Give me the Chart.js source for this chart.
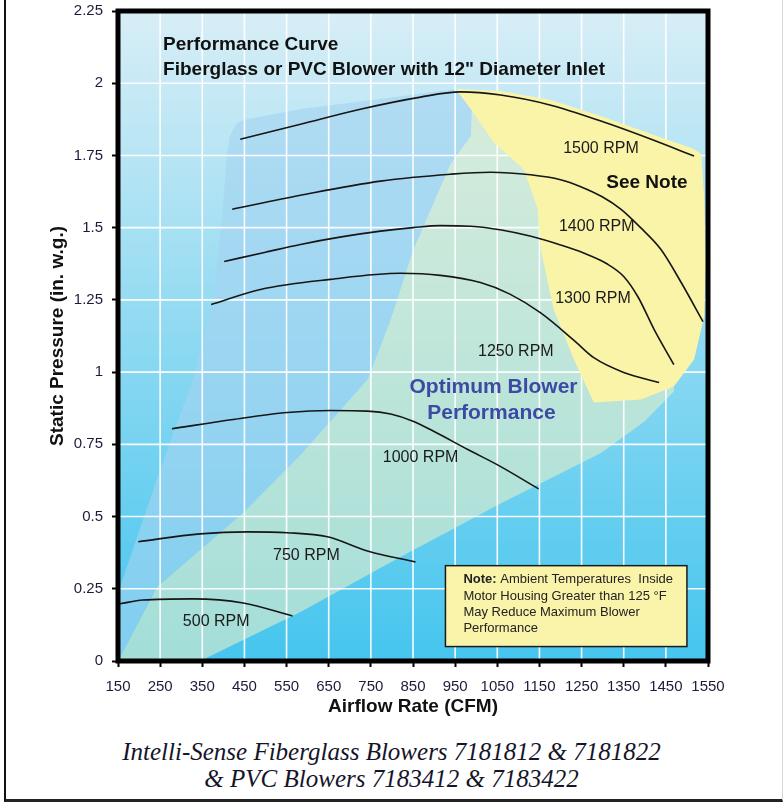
<!DOCTYPE html>
<html>
<head>
<meta charset="utf-8">
<script src="https://cdn.jsdelivr.net/npm/chart.js@4.4.0/dist/chart.umd.min.js"></script>
<style>
    html, body { margin: 0; padding: 0; background: #fff; }
    body { width: 783px; height: 804px; position: relative; overflow: hidden; }
    #frame {
        position: absolute; left: 4px; top: -5px; width: 779px; height: 807px;
        box-sizing: border-box;
        border-left: 2px solid #111; border-bottom: 3px solid #222; border-right: 1px solid #d8d8d8;
    }
    #chartBox { position: absolute; left: 0; top: 0; width: 783px; height: 725px; }
    #caption {
        position: absolute; left: 0; top: 738px; width: 783px; text-align: center;
        font-family: "Liberation Serif", "DejaVu Serif", serif; font-style: italic;
        font-size: 25px; line-height: 27px; color: #15152a;
    }
</style>
</head>
<body>
<div id="frame"></div>
<div id="chartBox"><canvas id="display"></canvas></div>
<div id="caption">Intelli-Sense Fiberglass Blowers 7181812 &amp; 7181822<br>&amp; PVC Blowers 7183412 &amp; 7183422</div>
<script>
// axis ticks
const xTickValues = [150, 250, 350, 450, 550, 650, 750, 850, 950, 1050, 1150, 1250, 1350, 1450, 1550];
const yTickValues = [0, 0.25, 0.5, 0.75, 1, 1.25, 1.5, 1.75, 2, 2.25];
const yTickLabels = ["0", "0.25", "0.5", "0.75", "1", "1.25", "1.5", "1.75", "2", "2.25"];

// fan curves (CFM / in. w.g.)
const cfm1500 = [440, 583, 725, 868, 963, 1058, 1177, 1296, 1415, 1517];
const sp1500 = [1.806, 1.858, 1.91, 1.952, 1.97, 1.959, 1.924, 1.869, 1.806, 1.748];
const cfm1400 = [421, 583, 773, 939, 1034, 1129, 1200, 1248, 1300, 1343, 1390, 1438, 1486, 1538];
const sp1400 = [1.564, 1.612, 1.661, 1.685, 1.692, 1.683, 1.666, 1.642, 1.606, 1.564, 1.5, 1.425, 1.311, 1.175];
const cfm1300 = [402, 500, 583, 680, 773, 850, 915, 987, 1060, 1130, 1200, 1255, 1310, 1350, 1384, 1422, 1469];
const sp1300 = [1.383, 1.415, 1.442, 1.468, 1.488, 1.5, 1.507, 1.505, 1.492, 1.47, 1.44, 1.412, 1.375, 1.331, 1.26, 1.148, 1.026];
const cfm1250 = [371, 488, 654, 820, 915, 1010, 1080, 1153, 1232, 1279, 1350, 1434];
const sp1250 = [1.234, 1.286, 1.321, 1.342, 1.335, 1.31, 1.27, 1.205, 1.11, 1.05, 0.999, 0.964];
const cfm1000 = [278, 423, 552, 654, 742, 797, 850, 899, 980, 1058, 1148];
const sp1000 = [0.804, 0.836, 0.86, 0.867, 0.865, 0.855, 0.83, 0.795, 0.732, 0.673, 0.596];
const cfm750 = [198, 345, 457, 552, 647, 742, 856];
const sp750 = [0.413, 0.44, 0.447, 0.444, 0.43, 0.381, 0.343];
const cfm500 = [155, 209, 328, 447, 564];
const sp500 = [0.198, 0.211, 0.215, 0.201, 0.156];

// shaded zones (outline points)
const optimumX = [150, 345, 583, 820, 1058, 1296, 1400, 1470, 1450, 1400, 1100, 951, 991, 987, 939, 851, 797, 742, 583, 447, 243, 150];
const optimumY = [0, 0, 0.17, 0.36, 0.545, 0.72, 0.83, 0.935, 1.2, 1.6, 1.9, 1.98, 1.956, 1.817, 1.72, 1.425, 1.182, 0.974, 0.714, 0.513, 0.257, 0];
const leftZoneX = [150, 155, 250, 328, 376, 397, 408, 416, 430, 445, 583, 773, 951, 991, 987, 939, 851, 797, 742, 583, 447, 243, 150];
const leftZoneY = [0, 0.257, 0.662, 0.974, 1.252, 1.529, 1.75, 1.82, 1.858, 1.872, 1.911, 1.945, 1.98, 1.956, 1.817, 1.72, 1.425, 1.182, 0.974, 0.714, 0.513, 0.257, 0];
const noteZoneX = [951, 1058, 1177, 1296, 1415, 1517, 1534, 1541, 1545, 1541, 1517, 1469, 1391, 1279, 1232, 1184, 1153, 1146, 1113, 1041, 987, 951];
const noteZoneY = [1.98, 1.973, 1.942, 1.886, 1.824, 1.772, 1.755, 1.598, 1.39, 1.193, 1.044, 0.95, 0.905, 0.895, 1.044, 1.217, 1.425, 1.564, 1.702, 1.796, 1.911, 1.98];

const pts = (xs, ys) => xs.map((v, i) => ({x: v, y: ys[i]}));
const FONT = '"Liberation Sans", Arial, sans-serif';
const LEFT_ZONE = 1;

let curve = function (xs, ys) {
    return {
        data: pts(xs, ys), order: 0, borderColor: "#161616", borderWidth: 1.6,
        pointRadius: 0, cubicInterpolationMode: "monotone", fill: false
    };
};
let zone = function (xs, ys, color, order) {
    return {
        data: pts(xs, ys), order: order, borderColor: "transparent", borderWidth: 0,
        backgroundColor: color, pointRadius: 0, tension: 0, fill: "shape"
    };
};

const bgPlugin = {
    id: "bgPlugin",
    beforeDatasetsDraw(chart) {
        const {ctx, chartArea: a} = chart;
        const g = ctx.createLinearGradient(0, a.top, 0, a.bottom);
        g.addColorStop(0, "#d8eef6");
        g.addColorStop(1, "#45c5ee");
        ctx.save();
        ctx.fillStyle = g;
        ctx.fillRect(a.left, a.top, a.right - a.left, a.bottom - a.top);
        ctx.restore();
    },
    afterDatasetDraw(chart, args) {
        // white grid goes over the blue/green zones but under the yellow one
        if (args.index !== LEFT_ZONE) {
            return;
        }
        const {ctx, chartArea: a, scales} = chart;
        ctx.save();
        ctx.strokeStyle = "rgba(255,255,255,0.95)";
        ctx.lineWidth = 1.6;
        ctx.beginPath();
        for (const v of xTickValues) {
            const px = scales.x.getPixelForValue(v);
            ctx.moveTo(px, a.top);
            ctx.lineTo(px, a.bottom);
        }
        for (const v of yTickValues) {
            const py = scales.y.getPixelForValue(v);
            ctx.moveTo(a.left, py);
            ctx.lineTo(a.right, py);
        }
        ctx.stroke();
        ctx.restore();
    }
};

const labelPlugin = {
    id: "labelPlugin",
    afterDatasetsDraw(chart) {
        const {ctx, chartArea: a, scales} = chart;
        const X = v => scales.x.getPixelForValue(v);
        const Y = v => scales.y.getPixelForValue(v);
        ctx.save();
        ctx.textBaseline = "middle";

        // title
        ctx.fillStyle = "#111";
        ctx.font = `bold 19px ${FONT}`;
        ctx.textAlign = "left";
        ctx.fillText("Performance Curve", X(257), Y(2.132));
        ctx.fillText('Fiberglass or PVC Blower with 12" Diameter Inlet', X(257), Y(2.046));

        // rpm labels
        ctx.font = `16px ${FONT}`;
        ctx.textAlign = "center";
        ctx.fillStyle = "#1a1a1a";
        const rpm = [
            ["1500 RPM", 1296, 1.775], ["1400 RPM", 1286, 1.502], ["1300 RPM", 1277, 1.256],
            ["1250 RPM", 1094, 1.072], ["1000 RPM", 868, 0.703], ["750 RPM", 597, 0.364],
            ["500 RPM", 383, 0.136]
        ];
        for (const [t, x, y] of rpm) {
            ctx.fillText(t, X(x), Y(y));
        }
        ctx.font = `bold 19px ${FONT}`;
        ctx.fillStyle = "#111";
        ctx.fillText("See Note", X(1405), Y(1.655));

        ctx.font = `bold 21px ${FONT}`;
        ctx.fillStyle = "#3d4aa3";
        ctx.fillText("Optimum Blower", X(1041), Y(0.948));
        ctx.fillText("Performance", X(1036), Y(0.857));

        // note box
        const bx = X(927), by = Y(0.33), bw = X(1500) - bx, bh = Y(0.05) - by;
        ctx.fillStyle = "#faf4aa";
        ctx.fillRect(bx, by, bw, bh);
        ctx.strokeStyle = "#1a1a1a";
        ctx.lineWidth = 1.5;
        ctx.strokeRect(bx, by, bw, bh);
        ctx.textAlign = "left";
        ctx.fillStyle = "#222";
        const tx = bx + 18;
        ctx.font = `bold 13px ${FONT}`;
        ctx.fillText("Note:", tx, by + 14);
        const w = ctx.measureText("Note:").width;
        ctx.font = `13px ${FONT}`;
        ctx.fillText(" Ambient Temperatures  Inside", tx + w, by + 14);
        ctx.fillText("Motor Housing Greater than 125 \u00B0F", tx, by + 30.5);
        ctx.fillText("May Reduce Maximum Blower", tx, by + 47);
        ctx.fillText("Performance", tx, by + 63);

        // heavy frame round the plot
        ctx.strokeStyle = "#000";
        ctx.lineWidth = 5;
        ctx.strokeRect(a.left, a.top, a.right - a.left, a.bottom - a.top);
        ctx.restore();
    }
};

new Chart(document.getElementById("display"), {
    type: "line",
    data: {
        datasets: [
            zone(optimumX, optimumY, "rgba(226,238,202,0.6)", 3),
            zone(leftZoneX, leftZoneY, "rgba(165,212,240,0.62)", 2),
            zone(noteZoneX, noteZoneY, "#faf4a8", 1),
            curve(cfm1500, sp1500),
            curve(cfm1400, sp1400),
            curve(cfm1300, sp1300),
            curve(cfm1250, sp1250),
            curve(cfm1000, sp1000),
            curve(cfm750, sp750),
            curve(cfm500, sp500)
        ]
    },
    options: {
        responsive: true,
        maintainAspectRatio: false,
        animation: false,
        events: [],
        layout: {padding: {left: 30, right: 75, top: 11, bottom: 4}},
        plugins: {legend: {display: false}, tooltip: {enabled: false}},
        scales: {
            x: {
                type: "linear", min: 150, max: 1550,
                afterBuildTicks: s => { s.ticks = xTickValues.map(v => ({value: v})); },
                afterFit: s => { s.height = 60; s.paddingLeft = 0; s.paddingRight = 0; },
                ticks: {font: {family: FONT, size: 15}, color: "#1c1c3a", padding: 11, maxRotation: 0, autoSkip: false,
                    callback: v => String(v)},
                grid: {drawOnChartArea: false, tickLength: 6, tickWidth: 2, tickColor: "#000"},
                border: {display: false},
                title: {display: true, text: "Airflow Rate (CFM)", font: {family: FONT, size: 19, weight: "bold"}, color: "#111", padding: {top: 0, bottom: 3}}
            },
            y: {
                type: "linear", min: 0, max: 2.25,
                afterBuildTicks: s => { s.ticks = yTickValues.map(v => ({value: v})); },
                afterFit: s => { s.width = 88; s.paddingTop = 0; s.paddingBottom = 0; },
                ticks: {font: {family: FONT, size: 15}, color: "#1c1c3a", padding: 9, autoSkip: false,
                    callback: (v, i) => yTickLabels[i]},
                grid: {drawOnChartArea: false, tickLength: 6, tickWidth: 2, tickColor: "#000"},
                border: {display: false},
                title: {display: true, text: "Static Pressure (in. w.g.)", font: {family: FONT, size: 19, weight: "bold"}, color: "#111", padding: {top: 16, bottom: 0}}
            }
        }
    },
    plugins: [bgPlugin, labelPlugin]
});
</script>
</body>
</html>
